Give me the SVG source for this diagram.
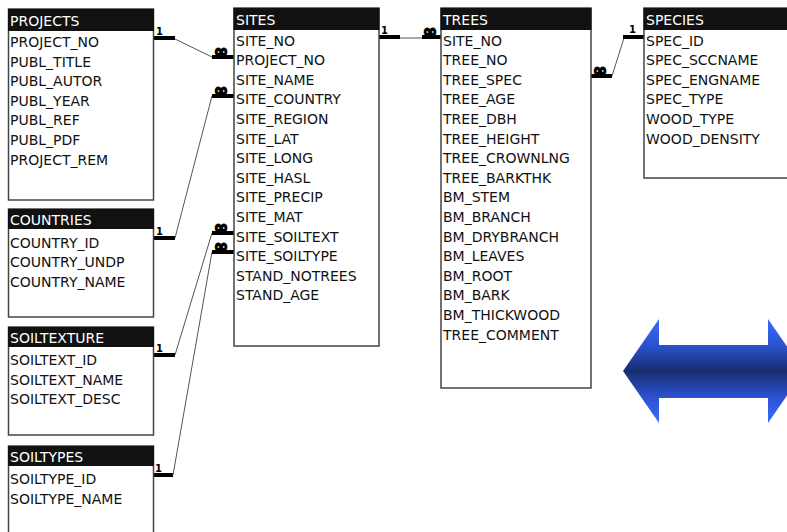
<svg xmlns="http://www.w3.org/2000/svg" width="787" height="532" viewBox="0 0 787 532">
<defs>
<style>
.box{fill:#fff;stroke:#444;stroke-width:1.5}
.hdr{fill:#111}
.ht{font-family:"DejaVu Sans",sans-serif;font-size:14px;fill:#fff}
.rt{font-family:"DejaVu Sans",sans-serif;font-size:14px;fill:#111}
.bar{stroke:#000;stroke-width:4;fill:none}
.ln{stroke:#555;stroke-width:1;fill:none}
.one{font-family:"DejaVu Sans",sans-serif;font-size:10px;font-weight:bold;fill:#000}
.inf{font-family:"DejaVu Sans",sans-serif;font-size:17px;font-weight:bold;fill:#000;stroke:#000;stroke-width:1.6;stroke-linejoin:round}
</style>
<linearGradient id="ag" gradientUnits="userSpaceOnUse" x1="0" y1="319" x2="0" y2="423">
<stop offset="0" stop-color="#3a6cff"/>
<stop offset="0.25" stop-color="#2c52d0"/>
<stop offset="0.5" stop-color="#172d6e"/>
<stop offset="0.75" stop-color="#2c52d0"/>
<stop offset="1" stop-color="#3a6cff"/>
</linearGradient>
</defs>
<rect width="787" height="532" fill="#fff"/>

<g id="connectors">
<!-- PROJECTS - SITES -->
<line class="bar" x1="154" y1="38" x2="175" y2="38"/>
<line class="ln" x1="175" y1="39" x2="212" y2="57"/>
<line class="bar" x1="212" y1="57" x2="234" y2="57"/>
<text class="one" x="156" y="35">1</text>
<text class="inf" x="214" y="57">∞</text>
<!-- COUNTRIES - SITES -->
<line class="bar" x1="154" y1="238" x2="175" y2="238"/>
<line class="ln" x1="175" y1="238" x2="212" y2="96"/>
<line class="bar" x1="212" y1="96" x2="234" y2="96"/>
<text class="one" x="156" y="235">1</text>
<text class="inf" x="214" y="96">∞</text>
<!-- SOILTEXTURE - SITES -->
<line class="bar" x1="154" y1="355" x2="175" y2="355"/>
<line class="ln" x1="175" y1="355" x2="212" y2="233"/>
<line class="bar" x1="212" y1="233" x2="234" y2="233"/>
<text class="one" x="156" y="352">1</text>
<text class="inf" x="214" y="233">∞</text>
<!-- SOILTYPES - SITES -->
<line class="bar" x1="152" y1="475" x2="173" y2="475"/>
<line class="ln" x1="173" y1="475" x2="212" y2="252"/>
<line class="bar" x1="212" y1="252" x2="234" y2="252"/>
<text class="one" x="155" y="472">1</text>
<text class="inf" x="214" y="252">∞</text>
<!-- SITES - TREES -->
<line class="bar" x1="379" y1="37" x2="400" y2="37"/>
<line class="ln" x1="400" y1="38" x2="422" y2="38"/>
<line class="bar" x1="422" y1="37" x2="441" y2="37"/>
<text class="one" x="381" y="34">1</text>
<text class="inf" x="423" y="37">∞</text>
<!-- TREES - SPECIES -->
<line class="bar" x1="591" y1="76" x2="612" y2="76"/>
<line class="ln" x1="612" y1="76" x2="624" y2="38"/>
<line class="bar" x1="623" y1="37" x2="644" y2="37"/>
<text class="one" x="629" y="33">1</text>
<text class="inf" x="593" y="76">∞</text>
</g>

<g id="projects">
<rect class="box" x="8.5" y="9" width="145" height="191"/>
<rect class="hdr" x="8" y="9" width="146" height="22"/>
<text class="ht" x="10" y="26">PROJECTS</text>
<text class="rt" x="10" y="47">PROJECT_NO</text>
<text class="rt" x="10" y="66.6">PUBL_TITLE</text>
<text class="rt" x="10" y="86.2">PUBL_AUTOR</text>
<text class="rt" x="10" y="105.8">PUBL_YEAR</text>
<text class="rt" x="10" y="125.4">PUBL_REF</text>
<text class="rt" x="10" y="145">PUBL_PDF</text>
<text class="rt" x="10" y="164.6">PROJECT_REM</text>
</g>

<g id="countries">
<rect class="box" x="8.5" y="209" width="145" height="108"/>
<rect class="hdr" x="8" y="209" width="146" height="20"/>
<text class="ht" x="10" y="225">COUNTRIES</text>
<text class="rt" x="10" y="247.5">COUNTRY_ID</text>
<text class="rt" x="10" y="267">COUNTRY_UNDP</text>
<text class="rt" x="10" y="286.5">COUNTRY_NAME</text>
</g>

<g id="soiltexture">
<rect class="box" x="8.5" y="327" width="145" height="108"/>
<rect class="hdr" x="8" y="327" width="146" height="20"/>
<text class="ht" x="10" y="343">SOILTEXTURE</text>
<text class="rt" x="10" y="365">SOILTEXT_ID</text>
<text class="rt" x="10" y="384.6">SOILTEXT_NAME</text>
<text class="rt" x="10" y="404.2">SOILTEXT_DESC</text>
</g>

<g id="soiltypes">
<rect class="box" x="8.5" y="446" width="145" height="100"/>
<rect class="hdr" x="8" y="446" width="146" height="20"/>
<text class="ht" x="10" y="462">SOILTYPES</text>
<text class="rt" x="10" y="484">SOILTYPE_ID</text>
<text class="rt" x="10" y="503.5">SOILTYPE_NAME</text>
</g>

<g id="sites">
<rect class="box" x="234" y="8" width="145" height="338"/>
<rect class="hdr" x="233.5" y="8" width="146" height="22"/>
<text class="ht" x="236" y="25">SITES</text>
<text class="rt" x="236" y="45.5">SITE_NO</text>
<text class="rt" x="236" y="65.1">PROJECT_NO</text>
<text class="rt" x="236" y="84.7">SITE_NAME</text>
<text class="rt" x="236" y="104.3">SITE_COUNTRY</text>
<text class="rt" x="236" y="123.9">SITE_REGION</text>
<text class="rt" x="236" y="143.5">SITE_LAT</text>
<text class="rt" x="236" y="163.1">SITE_LONG</text>
<text class="rt" x="236" y="182.7">SITE_HASL</text>
<text class="rt" x="236" y="202.3">SITE_PRECIP</text>
<text class="rt" x="236" y="221.9">SITE_MAT</text>
<text class="rt" x="236" y="241.5">SITE_SOILTEXT</text>
<text class="rt" x="236" y="261.1">SITE_SOILTYPE</text>
<text class="rt" x="236" y="280.7">STAND_NOTREES</text>
<text class="rt" x="236" y="300.3">STAND_AGE</text>
</g>

<g id="trees">
<rect class="box" x="441" y="8" width="150" height="380"/>
<rect class="hdr" x="440.5" y="8" width="151" height="22"/>
<text class="ht" x="443" y="25">TREES</text>
<text class="rt" x="443" y="45.5">SITE_NO</text>
<text class="rt" x="443" y="65.1">TREE_NO</text>
<text class="rt" x="443" y="84.7">TREE_SPEC</text>
<text class="rt" x="443" y="104.3">TREE_AGE</text>
<text class="rt" x="443" y="123.9">TREE_DBH</text>
<text class="rt" x="443" y="143.5">TREE_HEIGHT</text>
<text class="rt" x="443" y="163.1">TREE_CROWNLNG</text>
<text class="rt" x="443" y="182.7">TREE_BARKTHK</text>
<text class="rt" x="443" y="202.3">BM_STEM</text>
<text class="rt" x="443" y="221.9">BM_BRANCH</text>
<text class="rt" x="443" y="241.5">BM_DRYBRANCH</text>
<text class="rt" x="443" y="261.1">BM_LEAVES</text>
<text class="rt" x="443" y="280.7">BM_ROOT</text>
<text class="rt" x="443" y="300.3">BM_BARK</text>
<text class="rt" x="443" y="319.9">BM_THICKWOOD</text>
<text class="rt" x="443" y="339.5">TREE_COMMENT</text>
</g>

<g id="species">
<rect class="box" x="644" y="8" width="160" height="170"/>
<rect class="hdr" x="643.5" y="8" width="160" height="22"/>
<text class="ht" x="646" y="25">SPECIES</text>
<text class="rt" x="646" y="45.5">SPEC_ID</text>
<text class="rt" x="646" y="65.1">SPEC_SCCNAME</text>
<text class="rt" x="646" y="84.7">SPEC_ENGNAME</text>
<text class="rt" x="646" y="104.3">SPEC_TYPE</text>
<text class="rt" x="646" y="123.9">WOOD_TYPE</text>
<text class="rt" x="646" y="143.5">WOOD_DENSITY</text>
</g>

<g id="arrow">
<polygon fill="url(#ag)" points="623,371 659,319 659,345 768,345 768,319 804,371 768,423 768,398 659,398 659,423"/>
</g>
</svg>
